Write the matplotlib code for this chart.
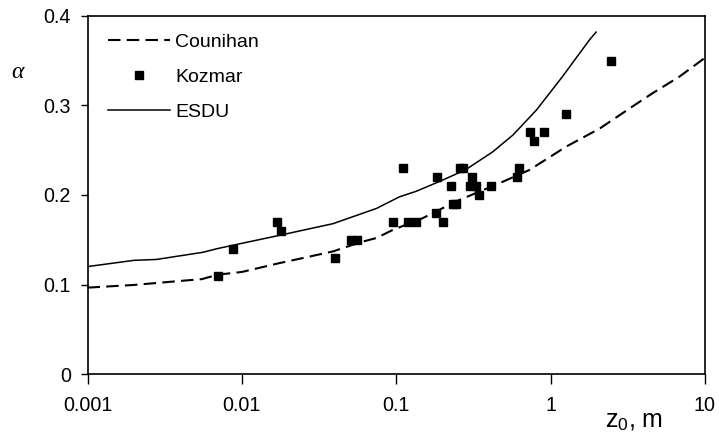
import matplotlib
matplotlib.use("Agg")
import matplotlib.pyplot as plt

plt.rcParams['font.family'] = ['Liberation Sans', 'DejaVu Sans']
plt.rcParams['mathtext.fontset'] = 'custom'
plt.rcParams['mathtext.rm'] = 'Liberation Sans'
plt.rcParams['mathtext.it'] = 'Liberation Serif:italic'

# Counihan curve
counihan_z = [0.001, 0.002, 0.004, 0.0055, 0.007, 0.01, 0.0176, 0.024, 0.039, 0.058,
              0.0745, 0.095, 0.148, 0.245, 0.45, 0.73, 1.26, 2.09, 3.4, 4.6, 6.8, 10.5]
counihan_a = [0.0965, 0.0995, 0.104, 0.106, 0.111, 0.114, 0.124, 0.129, 0.137, 0.147,
              0.152, 0.161, 0.174, 0.193, 0.212, 0.228, 0.254, 0.2745, 0.299, 0.314, 0.332, 0.356]

# ESDU curve
esdu_z = [0.001, 0.002, 0.0028, 0.0056, 0.0069, 0.01, 0.0176, 0.039, 0.0745, 0.105,
          0.134, 0.19, 0.28, 0.35, 0.42, 0.57, 0.81, 1.19, 1.78, 1.97]
esdu_a = [0.120, 0.127, 0.128, 0.136, 0.140, 0.146, 0.155, 0.168, 0.185, 0.198,
          0.204, 0.215, 0.228, 0.239, 0.248, 0.267, 0.295, 0.332, 0.373, 0.382]

# Kozmar measurements
kozmar_z = [0.007, 0.0088, 0.017, 0.018, 0.04, 0.051, 0.056, 0.095, 0.11, 0.12,
            0.135, 0.18, 0.185, 0.2, 0.225, 0.233, 0.243, 0.26, 0.27, 0.3,
            0.31, 0.33, 0.345, 0.41, 0.61, 0.62, 0.74, 0.78, 0.9, 1.25, 2.47]
kozmar_a = [0.11, 0.14, 0.17, 0.16, 0.13, 0.15, 0.15, 0.17, 0.23, 0.17,
            0.17, 0.18, 0.22, 0.17, 0.21, 0.19, 0.19, 0.23, 0.23, 0.21,
            0.22, 0.21, 0.20, 0.21, 0.22, 0.23, 0.27, 0.26, 0.27, 0.29, 0.35]

fig = plt.figure(figsize=(7.19, 4.38), dpi=100)
ax = fig.add_axes([0.1217, 0.1461, 0.8588, 0.8174])

ax.plot(counihan_z, counihan_a, color='black', linewidth=1.5, dashes=(6, 3),
        label='Counihan', clip_on=False)
ax.plot(kozmar_z, kozmar_a, 's', color='black', markersize=6, label='Kozmar')
ax.plot(esdu_z, esdu_a, color='black', linewidth=1.1, label='ESDU')

ax.set_xscale('log')
ax.set_xlim(0.001, 10)
ax.set_ylim(0, 0.4)
ax.set_xticks([0.001, 0.01, 0.1, 1, 10])
ax.set_xticklabels(['0.001', '0.01', '0.1', '1', '10'])
ax.set_yticks([0, 0.1, 0.2, 0.3, 0.4])
ax.set_yticklabels(['0', '0.1', '0.2', '0.3', '0.4'])
ax.minorticks_off()
ax.tick_params(axis='x', length=7, width=1, pad=9, labelsize=14.2)
ax.tick_params(axis='y', length=5, width=1, pad=7, labelsize=14.2)
for s in ax.spines.values():
    s.set_linewidth(1.2)

ax.legend(loc='upper left', frameon=False, fontsize=14, handlelength=3.2,
          handletextpad=0.26, borderaxespad=0.3, labelspacing=0.9,
          bbox_to_anchor=(0.011, 0.99))

fig.text(0.026, 0.835, r'$\alpha$', fontsize=17, ha='center', va='center')
fig.text(0.882, 0.038, r'$\mathrm{z}_{\mathrm{0}}$, m', fontsize=18, ha='center', va='center')

fig.savefig('out.png', dpi=100)
